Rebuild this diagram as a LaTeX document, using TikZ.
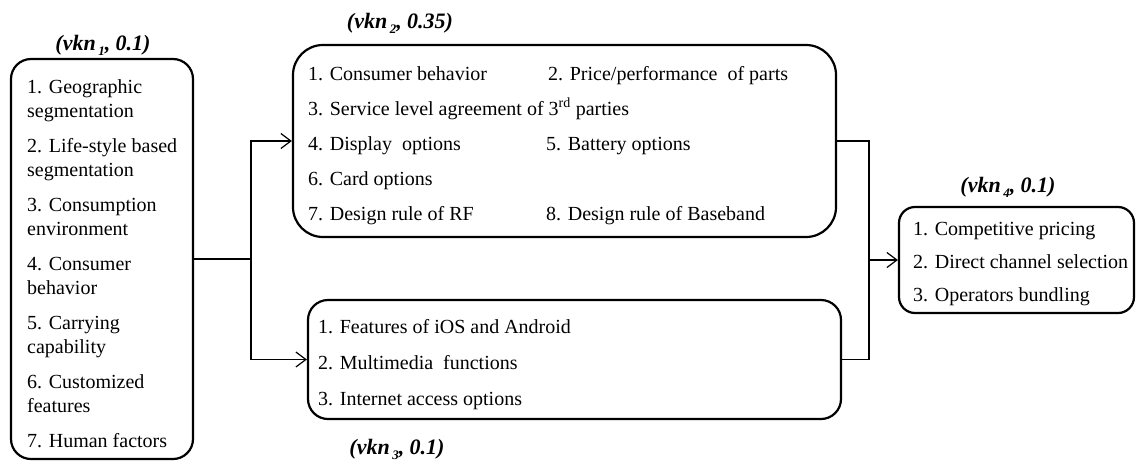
\documentclass[tikz,border=0pt]{standalone}
\usepackage{fontspec}
\setmainfont{Liberation Serif}
\usetikzlibrary{arrows.meta}
\newcommand\vknsub[1]{\hspace{2.5pt}\raisebox{-5pt}{\fontsize{13}{13}\selectfont #1}}
\begin{document}
\begin{tikzpicture}[x=1pt,y=-1pt,
  box/.style={draw, line width=2.2pt, rounded corners=#1, inner sep=0pt},
  item/.style={inner sep=0pt, anchor=base west, font=\fontsize{20}{24}\selectfont},
  lab/.style={inner sep=0pt, anchor=base, font=\fontsize{22}{26}\selectfont\bfseries\itshape},
  conn/.style={line width=1.2pt},
  arr/.style={conn, -{Straight Barb[length=10pt,width=15pt,line width=1.2pt]}}]
\fill[white] (0,0) rectangle (1137,461);
\useasboundingbox (0,0) rectangle (1137,461);

% ---- boxes
\node[box=20pt, minimum width=182pt, minimum height=400pt] (b1) at (102,259) {};
\node[box=30pt, minimum width=543pt, minimum height=192pt] (b2) at (564.5,141) {};
\node[box=20pt, minimum width=533pt, minimum height=119pt] (b3) at (574.5,359.5) {};
\node[box=16pt, minimum width=235pt, minimum height=106pt] (b4) at (1016.5,260) {};

% ---- labels
\node[lab] (l1) at (103,50) {(vkn\vknsub{1}, 0.1)};
\node[lab] (l2) at (400,28) {(vkn\vknsub{2}, 0.35)};
\node[lab] (l3) at (397,454) {(vkn\vknsub{3}, 0.1)};
\node[lab] (l4) at (1008,192) {(vkn\vknsub{4}, 0.1)};

% ---- first box items
\node[item] (a1)  at (27,93)  {1. Geographic};
\node[item] (a1b) at (27,117) {segmentation};
\node[item] (a2)  at (27,152) {2. Life-style based};
\node[item] (a2b) at (27,176) {segmentation};
\node[item] (a3)  at (27,211) {3. Consumption};
\node[item] (a3b) at (27,235) {environment};
\node[item] (a4)  at (27,270) {4. Consumer};
\node[item] (a4b) at (27,294) {behavior};
\node[item] (a5)  at (27,329) {5. Carrying};
\node[item] (a5b) at (27,353) {capability};
\node[item] (a6)  at (27,388) {6. Customized};
\node[item] (a6b) at (27,412) {features};
\node[item] (a7)  at (27,447) {7. Human factors};

% ---- second box items
\node[item] (c1) at (308,80)  {1. Consumer behavior};
\node[item] (c2) at (548,80)  {2. Price/performance\ \ of parts};
\node[item] (c3) at (308,115) {3. Service level agreement of 3\textsuperscript{rd} parties};
\node[item] (c4) at (308,150) {4. Display\ \ options};
\node[item] (c5) at (546,150) {5. Battery options};
\node[item] (c6) at (308,185) {6. Card options};
\node[item] (c7) at (308,220) {7. Design rule of RF};
\node[item] (c8) at (546,220) {8. Design rule of Baseband};

% ---- third box items
\node[item] (d1) at (318,333) {1. Features of iOS and Android};
\node[item] (d2) at (318,369) {2. Multimedia\ \ functions};
\node[item] (d3) at (318,405) {3. Internet access options};

% ---- fourth box items
\node[item] (e1) at (913,235) {1. Competitive pricing};
\node[item] (e2) at (913,268) {2. Direct channel selection};
\node[item] (e3) at (913,301) {3. Operators bundling};

% ---- connectors
\coordinate (split) at (251,259);
\coordinate (merge) at (869,260);
\draw[conn] (b1.east) -- (split);
\draw[arr] (split) |- (b2.west);
\draw[arr] (split) |- (b3.west);
\draw[conn] (b2.east) -| (merge);
\draw[conn] (b3.east) -| (merge);
\draw[arr] (merge) -- (b4.west);
\end{tikzpicture}
\end{document}
